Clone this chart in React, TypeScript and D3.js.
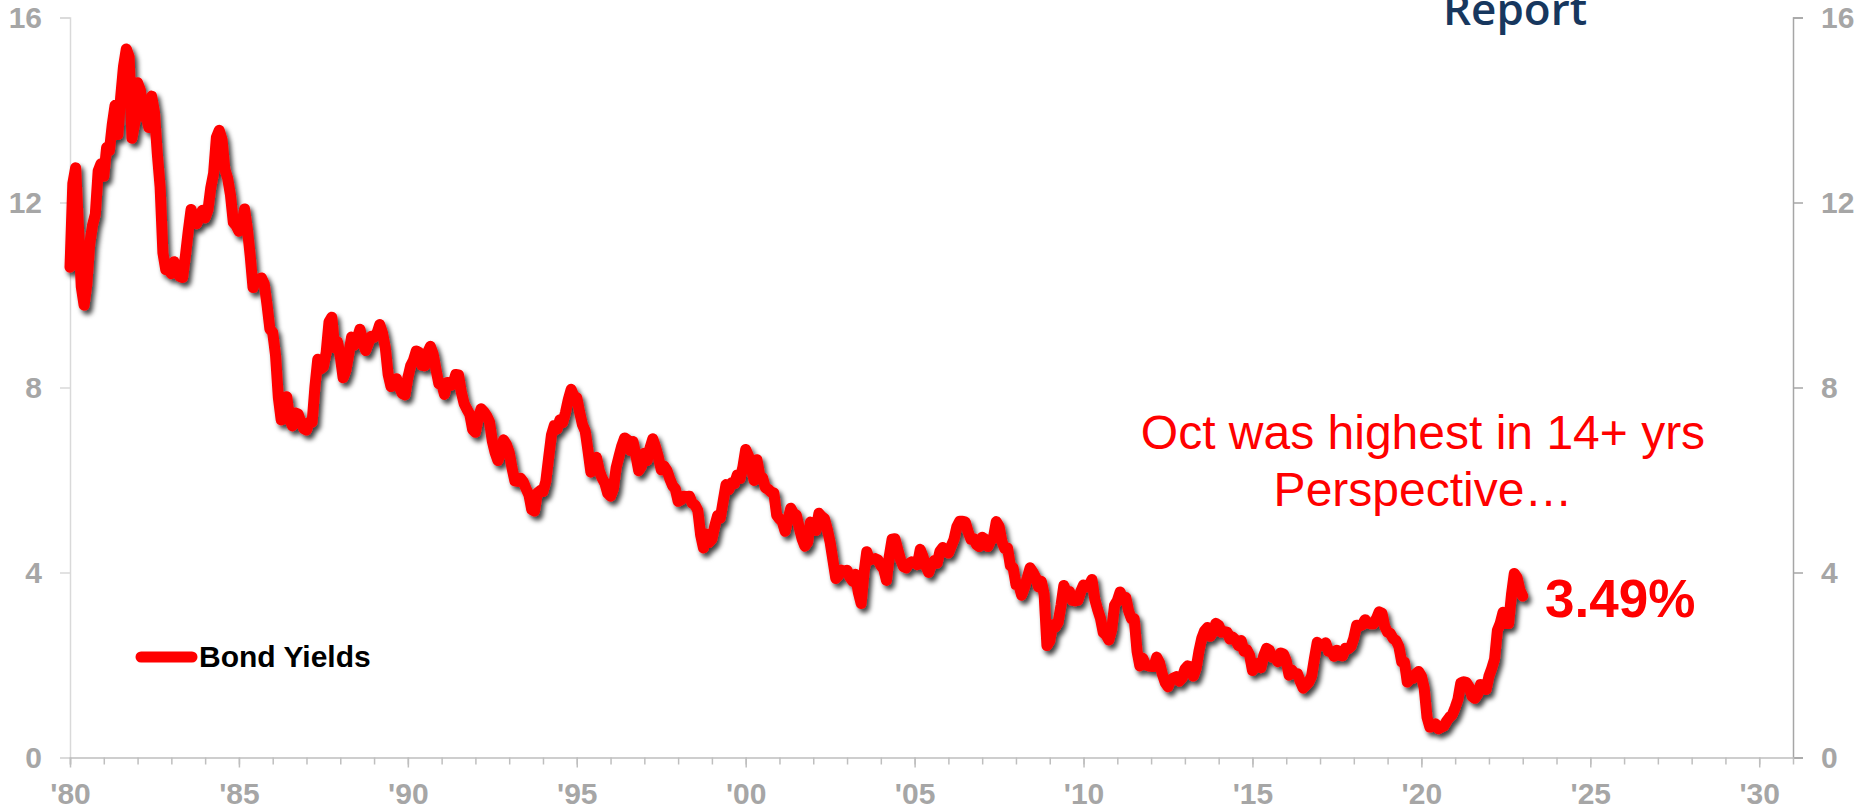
import React, { useRef, useEffect } from "react";
import * as d3 from "d3";

// 10-year yield, monthly averages (%), Jan of the start year onward
const yields1980s = [
  10.6, 12.41, 12.75, 11.47, 10.18, 9.78, 10.25, 11.1, 11.51, 11.75, 12.68, 12.84,
  12.57, 13.19, 13.12, 13.68, 14.1, 13.47, 14.28, 14.94, 15.32, 15.15, 13.39, 13.72,
  14.59, 14.43, 13.86, 13.87, 13.62, 14.3, 13.95, 13.06, 12.34, 10.91, 10.55, 10.54,
  10.46, 10.72, 10.51, 10.4, 10.38, 10.85, 11.38, 11.85, 11.65, 11.54, 11.69, 11.83,
  11.67, 11.84, 12.32, 12.63, 13.41, 13.56, 13.36, 12.72, 12.52, 12.16, 11.57, 11.5,
  11.38, 11.51, 11.86, 11.43, 10.85, 10.16, 10.31, 10.33, 10.37, 10.24, 9.78, 9.26,
  9.19, 8.7, 7.78, 7.3, 7.71, 7.8, 7.3, 7.17, 7.45, 7.43, 7.25, 7.11,
  7.08, 7.25, 7.25, 8.02, 8.61, 8.4, 8.45, 8.76, 9.42, 9.52, 8.86, 8.99,
  8.67, 8.21, 8.37, 8.72, 9.09, 8.92, 9.06, 9.26, 8.98, 8.8, 8.96, 9.11,
  9.09, 9.17, 9.36, 9.18, 8.86, 8.28, 8.02, 8.11, 8.19, 8.01, 7.87, 7.84,
];
const yields1990s = [
  8.21, 8.47, 8.59, 8.79, 8.76, 8.48, 8.47, 8.75, 8.89, 8.72, 8.39, 8.08,
  8.09, 7.85, 8.11, 8.04, 8.07, 8.28, 8.27, 7.9, 7.65, 7.53, 7.42, 7.09,
  7.03, 7.34, 7.54, 7.48, 7.39, 7.26, 6.84, 6.59, 6.42, 6.59, 6.87, 6.77,
  6.6, 6.26, 5.98, 5.97, 6.04, 5.96, 5.81, 5.68, 5.36, 5.33, 5.72, 5.77,
  5.75, 5.97, 6.48, 6.97, 7.18, 7.1, 7.3, 7.24, 7.46, 7.74, 7.96, 7.81,
  7.78, 7.47, 7.2, 7.06, 6.63, 6.17, 6.28, 6.49, 6.2, 6.04, 5.93, 5.71,
  5.65, 5.81, 6.27, 6.51, 6.74, 6.91, 6.87, 6.64, 6.83, 6.53, 6.2, 6.3,
  6.58, 6.42, 6.69, 6.89, 6.71, 6.49, 6.22, 6.3, 6.21, 6.03, 5.88, 5.81,
  5.54, 5.57, 5.65, 5.64, 5.65, 5.5, 5.46, 5.34, 4.81, 4.53, 4.83, 4.65,
  4.72, 5.0, 5.23, 5.18, 5.54, 5.9, 5.79, 5.94, 5.92, 6.11, 6.03, 6.28,
];
const yields2000s = [
  6.66, 6.52, 6.26, 5.99, 6.44, 6.1, 6.05, 5.83, 5.8, 5.74, 5.72, 5.24,
  5.16, 5.1, 4.89, 5.14, 5.39, 5.28, 5.24, 4.97, 4.73, 4.57, 4.65, 5.09,
  5.04, 4.91, 5.28, 5.21, 5.16, 4.93, 4.65, 4.26, 3.87, 3.94, 4.05, 4.03,
  4.05, 3.9, 3.81, 3.96, 3.57, 3.33, 3.98, 4.45, 4.27, 4.29, 4.3, 4.27,
  4.15, 4.08, 3.83, 4.35, 4.72, 4.73, 4.5, 4.28, 4.13, 4.1, 4.19, 4.23,
  4.22, 4.17, 4.5, 4.34, 4.14, 4.0, 4.18, 4.26, 4.2, 4.46, 4.54, 4.47,
  4.42, 4.57, 4.72, 4.99, 5.11, 5.11, 5.09, 4.88, 4.72, 4.73, 4.6, 4.56,
  4.76, 4.72, 4.56, 4.69, 4.75, 5.1, 5.0, 4.67, 4.52, 4.53, 4.15, 4.1,
  3.74, 3.74, 3.51, 3.68, 3.88, 4.1, 4.01, 3.89, 3.69, 3.81, 3.53, 2.42,
  2.52, 2.87, 2.82, 2.93, 3.29, 3.72, 3.56, 3.59, 3.4, 3.39, 3.4, 3.59,
];
const yields2010s = [
  3.73, 3.69, 3.73, 3.85, 3.42, 3.2, 3.01, 2.7, 2.65, 2.54, 2.76, 3.29,
  3.39, 3.58, 3.41, 3.46, 3.17, 3.0, 3.0, 2.3, 1.98, 2.15, 2.01, 1.98,
  1.97, 1.97, 2.17, 2.05, 1.8, 1.62, 1.53, 1.68, 1.72, 1.75, 1.65, 1.72,
  1.91, 1.98, 1.96, 1.76, 1.93, 2.3, 2.58, 2.74, 2.81, 2.62, 2.72, 2.9,
  2.86, 2.71, 2.72, 2.71, 2.56, 2.6, 2.54, 2.42, 2.53, 2.3, 2.33, 2.21,
  1.88, 1.98, 2.04, 1.94, 2.2, 2.36, 2.32, 2.17, 2.17, 2.07, 2.26, 2.24,
  2.09, 1.78, 1.89, 1.81, 1.81, 1.64, 1.5, 1.56, 1.63, 1.76, 2.14, 2.49,
  2.43, 2.42, 2.48, 2.3, 2.3, 2.19, 2.32, 2.21, 2.2, 2.36, 2.35, 2.4,
  2.58, 2.86, 2.84, 2.87, 2.98, 2.91, 2.89, 2.89, 3.0, 3.15, 3.12, 2.83,
  2.71, 2.68, 2.57, 2.53, 2.4, 2.07, 2.06, 1.63, 1.7, 1.71, 1.81, 1.86,
];
const yields2020s = [
  1.76, 1.5, 0.87, 0.66, 0.67, 0.73, 0.62, 0.65, 0.68, 0.79, 0.87, 0.93,
  1.08, 1.26, 1.61, 1.64, 1.62, 1.52, 1.32, 1.28, 1.37, 1.58, 1.56, 1.47,
  1.76, 1.93, 2.13, 2.75, 2.9, 3.14, 2.9, 2.9, 3.52, 3.98, 3.89, 3.62,
  3.49,
];

const yTicks = [0, 4, 8, 12, 16];
const yearTicks = d3.range(1980, 2031);
const labelYears = [1980, 1985, 1990, 1995, 2000, 2005, 2010, 2015, 2020, 2025, 2030];
const seriesName = "Bond Yields";
const noteLines = ["Oct was highest in 14+ yrs", "Perspective…"];
const lastLabel = "3.49%";

type Point = { t: number; v: number };

const toPoints = (startYear: number, vals: number[]): Point[] =>
  vals.map((v, i) => ({ t: startYear + i / 12, v }));

const data: Point[] = [
  ...toPoints(1980, yields1980s),
  ...toPoints(1990, yields1990s),
  ...toPoints(2000, yields2000s),
  ...toPoints(2010, yields2010s),
  ...toPoints(2020, yields2020s),
];

const W = 1866;
const H = 810;
const plot = { left: 70, right: 1793, top: 17.5, bottom: 757.5 };
const font = "'Liberation Sans', Arial, sans-serif";
const gray = "#a6a6a6";

const App: React.FC = () => {
  const svgRef = useRef<SVGSVGElement | null>(null);

  useEffect(() => {
    if (!svgRef.current) return;
    const svg = d3.select(svgRef.current);
    svg.selectAll("*").remove();

    const x = d3.scaleLinear().domain([1980, 2031]).range([plot.left, plot.right]);
    const y = d3.scaleLinear().domain([0, 16]).range([plot.bottom, plot.top]);

    const defs = svg.append("defs");
    const shadow = defs.append("filter").attr("id", "shadow")
      .attr("x", "-5%").attr("y", "-5%").attr("width", "110%").attr("height", "115%");
    shadow.append("feDropShadow")
      .attr("dx", 3).attr("dy", 4).attr("stdDeviation", 2.5)
      .attr("flood-color", "#000").attr("flood-opacity", 0.75);

    // title fragment at top (cut off by the edge, as in the source)
    svg.append("text")
      .attr("x", 1443).attr("y", 25)
      .attr("font-family", "'Open Sans', sans-serif")
      .attr("font-weight", 600)
      .attr("font-size", 44)
      .attr("fill", "#17375e")
      .text("Report");

    // y axes
    const left = svg.append("g").attr("transform", `translate(${plot.left},0)`)
      .call(d3.axisLeft(y).tickValues(yTicks).tickSize(10).tickPadding(18));
    left.select(".domain").attr("stroke", "#d9d9d9").attr("stroke-width", 1.5);
    left.selectAll(".tick line").attr("stroke", "#d9d9d9").attr("stroke-width", 1.5);

    const right = svg.append("g").attr("transform", `translate(${plot.right},0)`)
      .call(d3.axisRight(y).tickValues(yTicks).tickSize(10).tickPadding(18));
    right.select(".domain").attr("stroke", gray).attr("stroke-width", 1.5);
    right.selectAll(".tick line").attr("stroke", gray).attr("stroke-width", 1.5);

    [left, right].forEach((g) =>
      g.selectAll("text")
        .attr("font-family", font)
        .attr("font-weight", "bold")
        .attr("font-size", 30)
        .attr("fill", gray)
    );

    // x axis: yearly minor ticks, labels every 5 years
    const minor = svg.append("g").attr("transform", `translate(0,${plot.bottom})`)
      .call(d3.axisBottom(x).tickValues(yearTicks).tickSize(7).tickFormat(() => ""));
    minor.select(".domain").attr("stroke", "#bfbfbf").attr("stroke-width", 1.5);
    minor.selectAll(".tick line").attr("stroke", "#bfbfbf").attr("stroke-width", 1.5);

    const major = svg.append("g").attr("transform", `translate(0,${plot.bottom})`)
      .call(
        d3.axisBottom(x).tickValues(labelYears).tickSize(10).tickPadding(15)
          .tickFormat((d) => `'${String(d).slice(2)}`)
      );
    major.select(".domain").remove();
    major.selectAll(".tick line").attr("stroke", "#bfbfbf").attr("stroke-width", 1.5);
    major.selectAll("text")
      .attr("font-family", font)
      .attr("font-weight", "bold")
      .attr("font-size", 30)
      .attr("fill", gray);

    // the series
    const line = d3.line<Point>().x((d) => x(d.t)).y((d) => y(d.v));
    svg.append("path")
      .datum(data)
      .attr("fill", "none")
      .attr("stroke", "#ff0000")
      .attr("stroke-width", 11)
      .attr("stroke-linejoin", "round")
      .attr("stroke-linecap", "round")
      .attr("filter", "url(#shadow)")
      .attr("d", line);

    // legend
    svg.append("line")
      .attr("x1", 141).attr("x2", 192).attr("y1", 657).attr("y2", 657)
      .attr("stroke", "#ff0000").attr("stroke-width", 11)
      .attr("stroke-linecap", "round");
    svg.append("text")
      .attr("x", 199).attr("y", 667)
      .attr("font-family", font).attr("font-weight", "bold").attr("font-size", 30)
      .attr("fill", "#000")
      .text(seriesName);

    // annotations
    svg.append("text")
      .attr("x", 1423).attr("y", 449)
      .attr("text-anchor", "middle")
      .attr("font-family", font).attr("font-size", 48)
      .attr("fill", "#ff0000")
      .selectAll("tspan")
      .data(noteLines)
      .enter()
      .append("tspan")
      .attr("x", 1423)
      .attr("dy", (_, i) => (i === 0 ? 0 : 57))
      .text((d) => d);

    svg.append("text")
      .attr("x", 1545).attr("y", 617)
      .attr("font-family", font).attr("font-weight", "bold").attr("font-size", 53)
      .attr("fill", "#ff0000")
      .text(lastLabel);
  }, []);

  return (
    <svg
      ref={svgRef}
      width={W}
      height={H}
      style={{ position: "absolute", left: 0, top: 0, background: "#fff" }}
    />
  );
};

export default App;
